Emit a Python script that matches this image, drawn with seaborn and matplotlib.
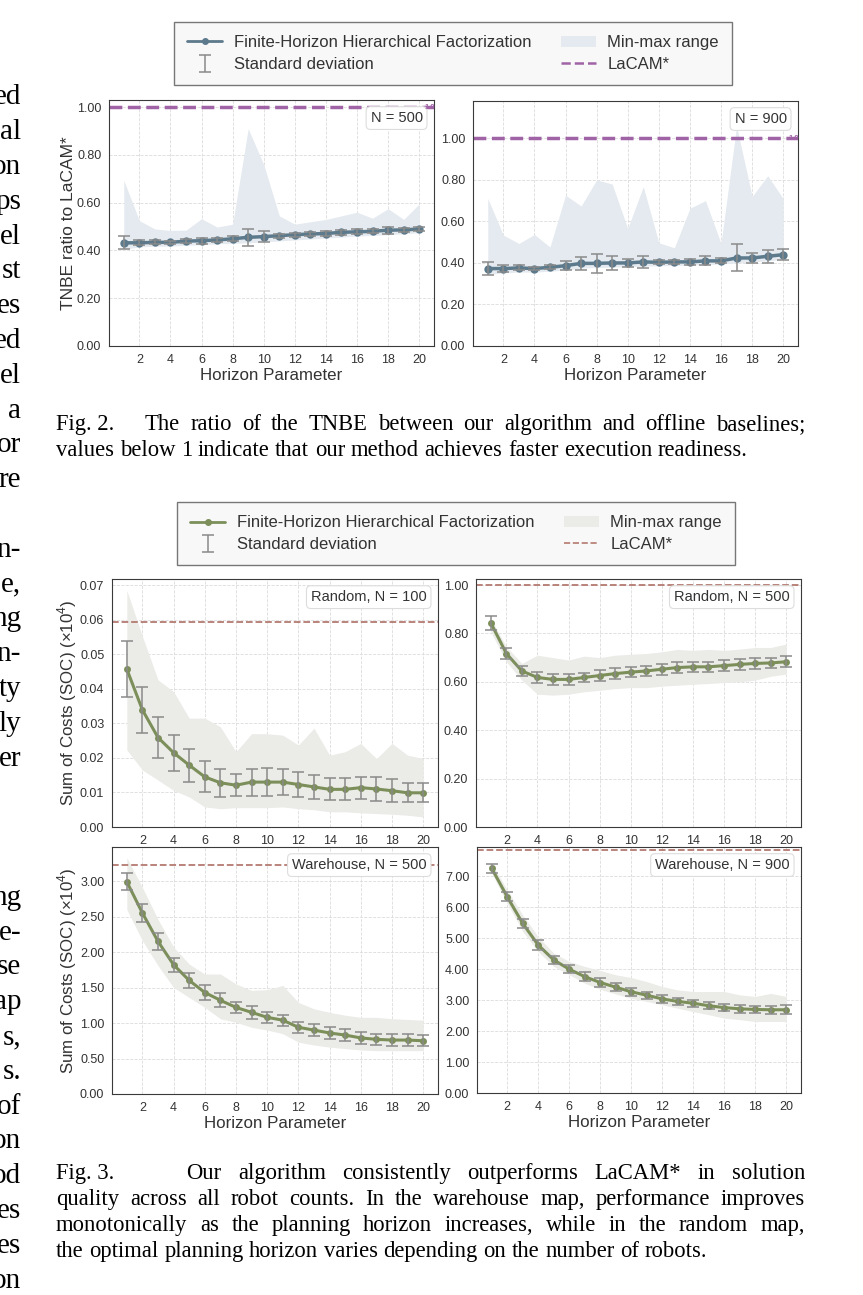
import matplotlib
matplotlib.use("Agg")
import pandas as pd
import seaborn as sns
import matplotlib.pyplot as plt
from matplotlib.lines import Line2D
from matplotlib.patches import Patch
from matplotlib.ticker import FormatStrFormatter, MultipleLocator

horizon = list(range(1, 21))

# Fig. 2: TNBE ratio to LaCAM*
tnbe500_mean = [0.432, 0.432, 0.434, 0.434, 0.439, 0.441, 0.444, 0.449, 0.455, 0.458,
                0.462, 0.466, 0.469, 0.471, 0.476, 0.478, 0.480, 0.485, 0.486, 0.490]
tnbe500_std = [0.027, 0.010, 0.008, 0.006, 0.007, 0.012, 0.007, 0.010, 0.035, 0.022,
               0.008, 0.008, 0.008, 0.010, 0.010, 0.010, 0.008, 0.015, 0.010, 0.010]
tnbe500_lo = [0.405, 0.415, 0.418, 0.418, 0.422, 0.424, 0.428, 0.430, 0.432, 0.436,
              0.440, 0.444, 0.448, 0.452, 0.456, 0.460, 0.463, 0.466, 0.470, 0.474]
tnbe500_hi = [0.694, 0.525, 0.490, 0.484, 0.485, 0.533, 0.498, 0.510, 0.910, 0.760,
              0.545, 0.510, 0.520, 0.530, 0.545, 0.560, 0.535, 0.575, 0.530, 0.595]

tnbe900_mean = [0.373, 0.373, 0.376, 0.373, 0.379, 0.387, 0.398, 0.398, 0.400, 0.400,
                0.405, 0.403, 0.405, 0.405, 0.410, 0.410, 0.424, 0.424, 0.432, 0.440]
tnbe900_std = [0.032, 0.015, 0.012, 0.008, 0.010, 0.020, 0.030, 0.044, 0.035, 0.020,
               0.030, 0.010, 0.010, 0.016, 0.022, 0.012, 0.065, 0.025, 0.030, 0.025]
tnbe900_lo = [0.345, 0.352, 0.356, 0.356, 0.360, 0.366, 0.375, 0.378, 0.380, 0.382,
              0.385, 0.386, 0.388, 0.390, 0.392, 0.395, 0.400, 0.405, 0.410, 0.418]
tnbe900_hi = [0.711, 0.534, 0.494, 0.537, 0.477, 0.727, 0.674, 0.800, 0.780, 0.566,
              0.768, 0.497, 0.473, 0.663, 0.700, 0.494, 1.060, 0.720, 0.820, 0.710]

# Fig. 3: sum of costs (x10^4)
rand100_mean = [0.0457, 0.0339, 0.0259, 0.0215, 0.0179, 0.0145, 0.0128, 0.0121, 0.0130, 0.0130,
                0.0130, 0.0123, 0.0116, 0.0109, 0.0109, 0.0114, 0.0110, 0.0105, 0.0099, 0.0099]
rand100_std = [0.0082, 0.0067, 0.0060, 0.0052, 0.0048, 0.0045, 0.0041, 0.0032, 0.0039, 0.0041,
               0.0038, 0.0036, 0.0035, 0.0032, 0.0032, 0.0032, 0.0034, 0.0033, 0.0028, 0.0028]
rand100_lo = [0.0223, 0.0165, 0.0136, 0.0106, 0.0087, 0.0058, 0.0053, 0.0056, 0.0056, 0.0056,
              0.0058, 0.0053, 0.0050, 0.0044, 0.0044, 0.0041, 0.0039, 0.0037, 0.0034, 0.0029]
rand100_hi = [0.0685, 0.0552, 0.0426, 0.0392, 0.0315, 0.0315, 0.0290, 0.0218, 0.0270, 0.0270,
              0.0266, 0.0237, 0.0286, 0.0208, 0.0218, 0.0242, 0.0198, 0.0242, 0.0208, 0.0198]

rand500_mean = [0.844, 0.717, 0.645, 0.618, 0.610, 0.610, 0.618, 0.626, 0.634, 0.640,
                0.645, 0.652, 0.659, 0.662, 0.662, 0.667, 0.672, 0.676, 0.678, 0.683]
rand500_std = [0.028, 0.022, 0.020, 0.022, 0.022, 0.022, 0.020, 0.022, 0.022, 0.022,
               0.022, 0.022, 0.022, 0.022, 0.022, 0.022, 0.022, 0.022, 0.020, 0.022]
rand500_lo = [0.807, 0.683, 0.607, 0.549, 0.545, 0.549, 0.559, 0.565, 0.572, 0.576,
              0.576, 0.582, 0.586, 0.590, 0.593, 0.597, 0.600, 0.607, 0.623, 0.632]
rand500_hi = [0.862, 0.745, 0.676, 0.710, 0.700, 0.690, 0.706, 0.700, 0.710, 0.714,
              0.717, 0.724, 0.734, 0.730, 0.734, 0.730, 0.735, 0.742, 0.742, 0.756]

wh500_mean = [2.99, 2.55, 2.15, 1.82, 1.60, 1.43, 1.32, 1.22, 1.15, 1.08,
              1.04, 0.94, 0.90, 0.86, 0.83, 0.79, 0.77, 0.76, 0.76, 0.75]
wh500_std = [0.12, 0.13, 0.12, 0.10, 0.10, 0.10, 0.10, 0.08, 0.09, 0.08,
             0.08, 0.08, 0.08, 0.08, 0.08, 0.08, 0.08, 0.08, 0.08, 0.08]
wh500_lo = [2.60, 2.16, 1.81, 1.50, 1.36, 1.22, 1.06, 1.01, 0.94, 0.90,
            0.85, 0.73, 0.69, 0.66, 0.64, 0.62, 0.61, 0.61, 0.61, 0.61]
wh500_hi = [3.33, 2.91, 2.46, 2.07, 1.83, 1.69, 1.69, 1.55, 1.46, 1.47,
            1.53, 1.29, 1.20, 1.15, 1.11, 1.08, 1.08, 1.06, 1.05, 1.04]

wh900_mean = [7.26, 6.34, 5.48, 4.78, 4.30, 4.00, 3.76, 3.57, 3.42, 3.27,
              3.16, 3.04, 2.96, 2.90, 2.82, 2.76, 2.72, 2.70, 2.69, 2.69]
wh900_std = [0.15, 0.14, 0.15, 0.15, 0.14, 0.13, 0.14, 0.14, 0.12, 0.13,
             0.12, 0.12, 0.12, 0.12, 0.12, 0.12, 0.12, 0.12, 0.13, 0.14]
wh900_lo = [7.10, 6.13, 5.22, 4.57, 4.09, 3.82, 3.55, 3.35, 3.20, 3.06,
            2.96, 2.85, 2.74, 2.63, 2.53, 2.42, 2.37, 2.31, 2.31, 2.31]
wh900_hi = [7.42, 6.56, 5.75, 5.05, 4.52, 4.25, 4.09, 3.96, 3.82, 3.73,
            3.60, 3.44, 3.33, 3.28, 3.28, 3.28, 3.17, 3.12, 3.22, 3.12]

lacam_fig2 = 1.0
lacam_rand100 = 0.0593
lacam_rand500 = 1.0
lacam_wh500 = 3.22
lacam_wh900 = 7.84

legend_labels = ["Finite-Horizon Hierarchical Factorization", "Standard deviation",
                 "Min-max range", "LaCAM*"]

# page text around the figures
margin_top = ["ed", "al", "on", "ps", "el", "st", "es", "ed", "el", "a", "or", "re"]
margin_mid = ["n-", "e,", "ng", "n-", "ty", "ly", "er"]
margin_bot = ["ng", "e-", "se", "ap", "s,", "s.", "of", "on", "od", "es", "es", "on"]
cap2 = ["Fig. 2. The ratio of the TNBE between our algorithm and offline baselines;",
        "values below 1 indicate that our method achieves faster execution readiness."]
cap3 = ["Fig. 3. Our algorithm consistently outperforms LaCAM* in solution",
        "quality across all robot counts. In the warehouse map, performance improves",
        "monotonically as the planning horizon increases, while in the random map,",
        "the optimal planning horizon varies depending on the number of robots."]

W, H = 863, 1295
sns.set_style("whitegrid", {"grid.linestyle": "--", "grid.color": "#dcdcdc",
                            "axes.edgecolor": "#3a3a3a", "axes.linewidth": 1.2})
plt.rcParams["font.family"] = ["Liberation Sans", "DejaVu Sans"]
plt.rcParams["mathtext.fontset"] = "custom"
plt.rcParams["mathtext.rm"] = "Liberation Sans"
plt.rcParams["text.color"] = "#333333"
plt.rcParams["axes.labelcolor"] = "#333333"
plt.rcParams["xtick.color"] = "#333333"
plt.rcParams["ytick.color"] = "#333333"

fig = plt.figure(figsize=(W / 100, H / 100), dpi=100)


def box(x0, y0, x1, y1):
    return [x0 / W, 1 - y1 / H, (x1 - x0) / W, (y1 - y0) / H]


ERR = "#8a8a8a"


def panel(ax, mean, std, lo, hi, lacam, line_c, fill_c, lacam_c, lacam_lw, tag, ylim, ystep, lw, ms):
    df = pd.DataFrame({"horizon": horizon, "value": mean})
    ax.fill_between(horizon, lo, hi, color=fill_c, lw=0, zorder=1)
    sns.lineplot(data=df, x="horizon", y="value", ax=ax, color=line_c, lw=lw,
                 marker="o", markersize=ms, markeredgewidth=0, zorder=3)
    eb = ax.errorbar(horizon, mean, yerr=std, fmt="none", ecolor=ERR, elinewidth=1.1,
                     capsize=4, capthick=1.1, zorder=4)
    ax.axhline(lacam, color=lacam_c, ls="--", lw=lacam_lw, zorder=2)
    ax.set_xlim(0.05, 20.95)
    ax.set_ylim(*ylim)
    ax.xaxis.set_major_locator(MultipleLocator(2))
    ax.yaxis.set_major_locator(MultipleLocator(ystep))
    ax.yaxis.set_major_formatter(FormatStrFormatter("%.2f"))
    ax.tick_params(labelsize=9, pad=2)
    ax.grid(True, ls="--", lw=0.6, color="#dcdcdc")
    ax.set_xlabel("")
    ax.set_ylabel("")
    ax.text(0.965, 0.955, tag, transform=ax.transAxes, ha="right", va="top", fontsize=10.5,
            zorder=6, bbox=dict(boxstyle="round,pad=0.3", fc="white", ec="#dddddd", lw=0.8))
    return eb


# Fig. 2
c2_line, c2_fill, c2_lac = "#5c7a8c", "#e4eaef", "#a064a6"
ax = fig.add_axes(box(109, 100, 434, 346))
eb2 = panel(ax, tnbe500_mean, tnbe500_std, tnbe500_lo, tnbe500_hi, lacam_fig2,
            c2_line, c2_fill, c2_lac, 2.5, "N = 500", (0, 1.03), 0.2, 2.5, 6)
ax.set_ylabel("TNBE ratio to LaCAM*", fontsize=12.5, labelpad=1)
ax.set_xlabel("Horizon Parameter", fontsize=12.2, labelpad=2)
ax.text(0.97, lacam_fig2, "1.0", transform=ax.get_yaxis_transform(), ha="left", va="center",
        fontsize=5.5, color=c2_lac, fontweight="bold", zorder=7)

ax = fig.add_axes(box(473, 101, 798, 346))
panel(ax, tnbe900_mean, tnbe900_std, tnbe900_lo, tnbe900_hi, lacam_fig2,
      c2_line, c2_fill, c2_lac, 2.5, "N = 900", (0, 1.18), 0.2, 2.5, 6)
ax.set_ylim(0, 1.18)
ax.set_yticks([0, 0.2, 0.4, 0.6, 0.8, 1.0])
ax.set_xlabel("Horizon Parameter", fontsize=12.2, labelpad=2)
ax.text(0.97, lacam_fig2, "1.0", transform=ax.get_yaxis_transform(), ha="left", va="center",
        fontsize=5.5, color=c2_lac, fontweight="bold", zorder=7)

handles2 = [Line2D([], [], color=c2_line, lw=2, marker="o", ms=4), eb2,
            Patch(facecolor=c2_fill, edgecolor="none"),
            Line2D([], [], color=c2_lac, lw=1.8, ls="--")]
leg_kw = dict(loc="upper left", ncol=2, frameon=True, fancybox=False, framealpha=1,
              fontsize=12, handlelength=2.1, handletextpad=0.7, columnspacing=1.75,
              labelspacing=0.4, borderpad=0.8, borderaxespad=0)
fig.legend(handles2, legend_labels, bbox_to_anchor=(174 / W, 1 - 22 / H),
           edgecolor="#777777", facecolor="#f8f8f8", **leg_kw)

# Fig. 3
c3_line, c3_fill, c3_lac = "#7c8f5a", "#ebebe8", "#b47a70"
soc_label = "Sum of Costs (SOC) (×10$^{4}$)"
ax = fig.add_axes(box(112, 579, 438, 827))
eb3 = panel(ax, rand100_mean, rand100_std, rand100_lo, rand100_hi, lacam_rand100,
            c3_line, c3_fill, c3_lac, 1.3, "Random, N = 100", (0, 0.0718), 0.01, 2.2, 5)
ax.set_ylabel(soc_label, fontsize=12.2, labelpad=1)

ax = fig.add_axes(box(476, 579, 801, 827))
panel(ax, rand500_mean, rand500_std, rand500_lo, rand500_hi, lacam_rand500,
      c3_line, c3_fill, c3_lac, 1.3, "Random, N = 500", (0, 1.025), 0.2, 2.2, 5)

ax = fig.add_axes(box(112, 847, 438, 1094))
panel(ax, wh500_mean, wh500_std, wh500_lo, wh500_hi, lacam_wh500,
      c3_line, c3_fill, c3_lac, 1.3, "Warehouse, N = 500", (0, 3.48), 0.5, 2.2, 5)
ax.set_ylabel(soc_label, fontsize=12.2, labelpad=1)
ax.set_xlabel("Horizon Parameter", fontsize=12.2, labelpad=2)

ax = fig.add_axes(box(477, 847, 801, 1093))
panel(ax, wh900_mean, wh900_std, wh900_lo, wh900_hi, lacam_wh900,
      c3_line, c3_fill, c3_lac, 1.3, "Warehouse, N = 900", (0, 7.95), 1.0, 2.2, 5)
ax.set_xlabel("Horizon Parameter", fontsize=12.2, labelpad=2)

handles3 = [Line2D([], [], color=c3_line, lw=2, marker="o", ms=4), eb3,
            Patch(facecolor=c3_fill, edgecolor="none"),
            Line2D([], [], color=c3_lac, lw=1.2, ls="--")]
fig.legend(handles3, legend_labels, bbox_to_anchor=(177 / W, 1 - 502 / H),
           edgecolor="#777777", facecolor="#f8f8f8", **leg_kw)

# page text (serif)
SERIF = ["Liberation Serif", "DejaVu Serif"]
renderer = fig.canvas.get_renderer()


def page_line(text, x0, x1, base, size, justify, label_gap):
    words = text.split(" ")
    if words[0] == "Fig." and len(words) > 1:
        words = [words[0] + " " + words[1]] + words[2:]
    objs = [fig.text(x0 / W, 1 - base / H, w, fontsize=size, family=SERIF,
                     va="baseline", ha="left", color="black") for w in words]
    widths = [t.get_window_extent(renderer).width for t in objs]
    weights = [1.0] * (len(words) - 1)
    if text.startswith("Fig."):
        weights[0] = label_gap
    if justify:
        gap = (x1 - x0 - sum(widths)) / sum(weights)
    else:
        gap = 0.25 * size * 100 / 72
    x = x0
    for t, w, g in zip(objs, widths, weights + [0]):
        t.set_x(x / W)
        x += w + gap * g


page_line(cap2[0], 56, 805, 430, 16.3, True, 3.0)
page_line(cap2[1], 56, 805, 456, 16.3, False, 1)
for i, line in enumerate(cap3):
    page_line(line, 56, 805, 1179 + 26 * i, 16.3, i < 3, 4.4)

# column text of the neighbouring page column, clipped by the left edge as in the scan
for k, frag in list(enumerate(margin_top)) + [(13 + i, f) for i, f in enumerate(margin_mid)] + \
        [(23 + i, f) for i, f in enumerate(margin_bot)]:
    fig.text(21 / W, 1 - (104.4 + 34.8 * k) / H, frag, fontsize=21, family=SERIF,
             ha="right", va="baseline", color="black")

fig.savefig("out.png", dpi=100)
